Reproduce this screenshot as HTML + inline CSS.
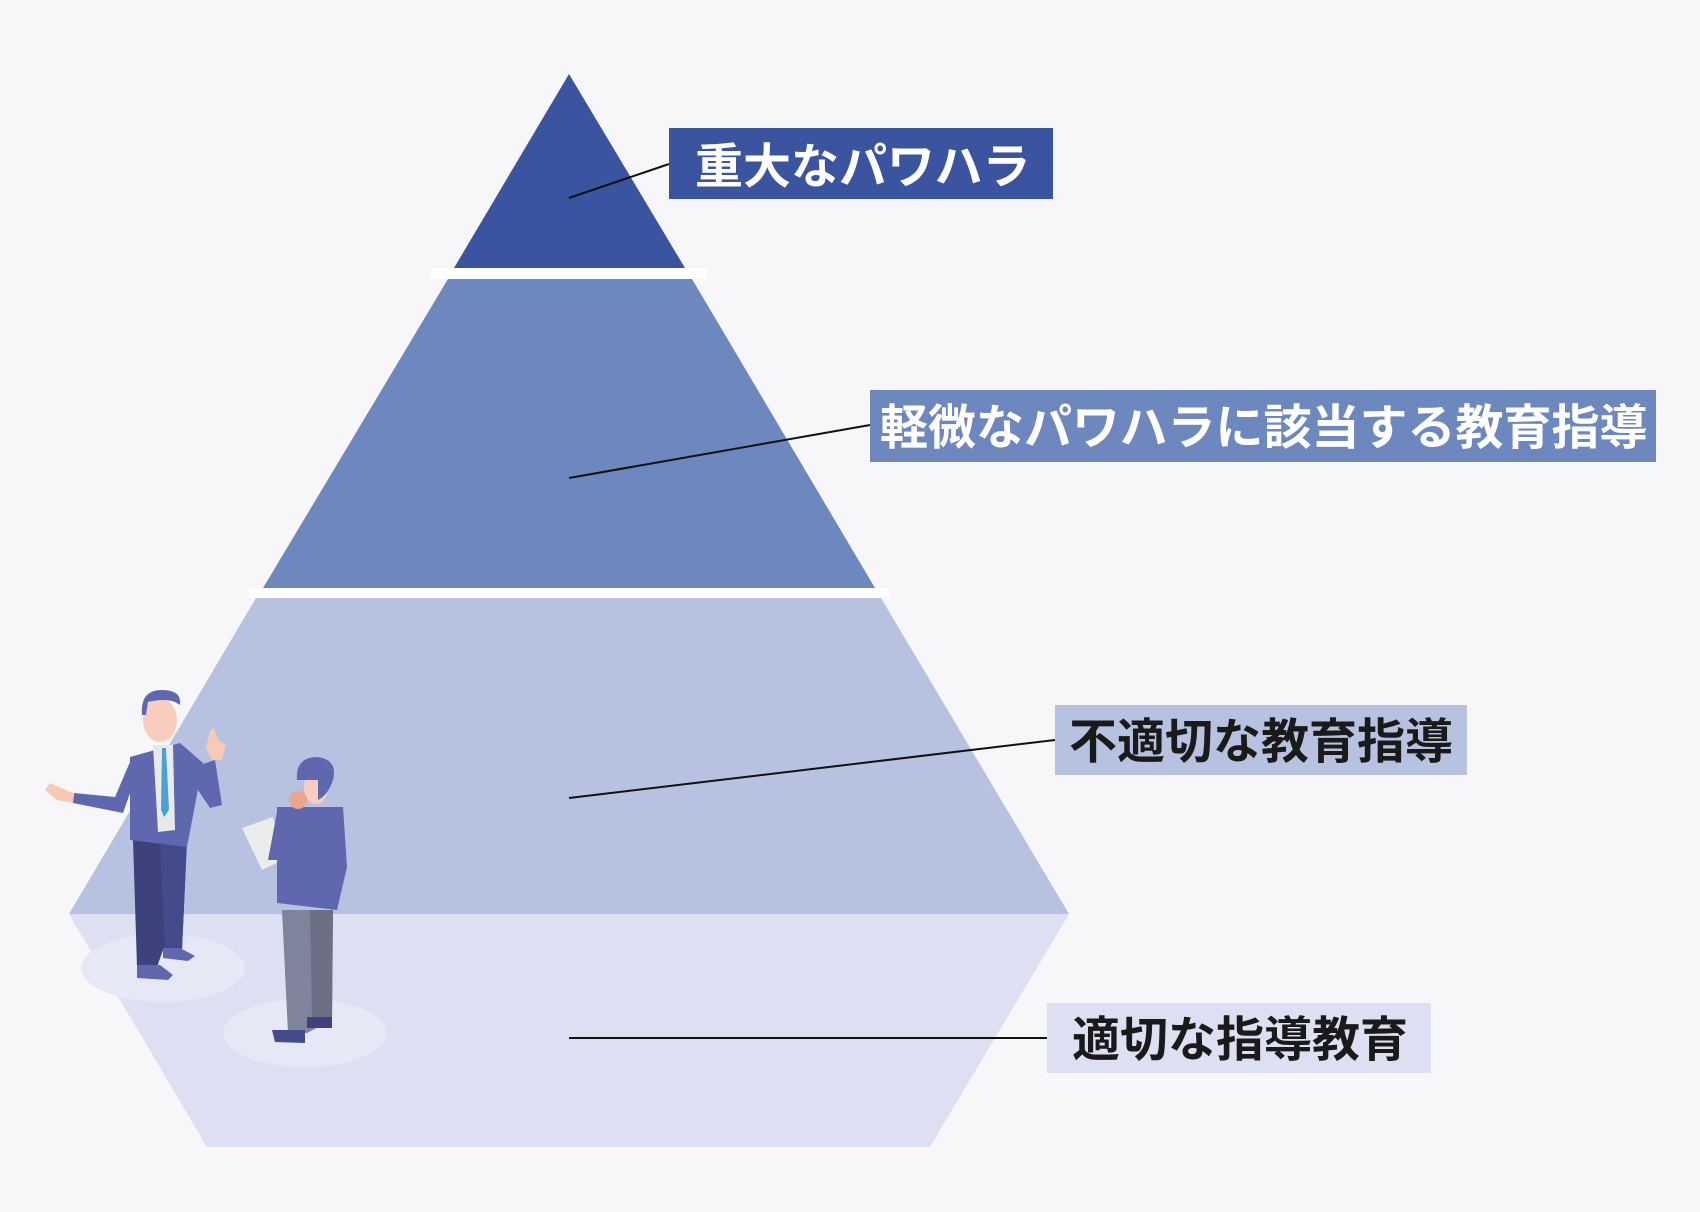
<!DOCTYPE html>
<html><head><meta charset="utf-8"><style>
html,body{margin:0;padding:0;background:#f7f7f9;}
svg{display:block;}
text{font-family:"Liberation Sans","Noto Sans CJK JP",sans-serif;font-weight:bold;font-size:48px;}
</style></head><body>
<svg width="1700" height="1212" viewBox="0 0 1700 1212" xmlns="http://www.w3.org/2000/svg">
<rect width="1700" height="1212" fill="#f7f7f9"/>
<polygon points="569,74 685,268 454,268" fill="#3a54a0"/>
<rect x="431" y="268" width="276" height="11" fill="#ffffff"/>
<polygon points="448,279 692,279 875,588 263,588" fill="#6d87bf"/>
<rect x="249" y="588" width="640" height="10" fill="#ffffff"/>
<polygon points="256,598 881,598 1069,914 69,914" fill="#b6c2e0"/>
<polygon points="69,914 1069,914 930,1147 207,1147" fill="#dde0f2"/>
<ellipse cx="163" cy="968" rx="82" ry="34" fill="#e6e8f5"/>
<ellipse cx="305" cy="1033" rx="82" ry="34" fill="#e6e8f5"/>
<polygon points="133,840 187,840 182,950 163,950 157,967 137,967" fill="#3d427c"/>
<polygon points="160,840 187,840 182,950 165,950" fill="#454b8a"/>
<polygon points="137,965 160,965 173,975 168,980 137,978" fill="#5f67ae"/>
<polygon points="163,948 180,948 195,956 188,961 163,958" fill="#5f67ae"/>
<polygon points="130,757 180,743 203,763 187,847 130,840" fill="#5f67ae"/>
<polygon points="153,745 173,745 175,830 158,832" fill="#e9eaea"/>
<polygon points="162,748 166,748 169,810 164,817 161,810" fill="#4aa0d8"/>
<polygon points="130,762 140,765 123,813 73,803 74,793 115,797" fill="#5f67ae"/>
<polygon points="50,783 73,793 73,803 57,800 45,790" fill="#f8c9b5"/>
<polygon points="200,765 215,760 222,805 210,808 198,790" fill="#5f67ae"/>
<polygon points="210,730 214,728 218,740 226,745 222,760 212,760 206,748" fill="#f8c9b5"/>
<ellipse cx="160" cy="720" rx="17" ry="22" fill="#f8cdbd"/>
<path d="M142,715 Q140,690 162,690 Q182,690 180,705 L175,702 Q165,698 148,702 L146,715 Z" fill="#5f67ae"/>
<polygon points="282,910 333,910 332,1020 307,1033 288,1033" fill="#7e849c"/>
<polygon points="310,910 333,910 332,1020 312,1020" fill="#6c7084"/>
<polygon points="272,1030 305,1030 305,1043 275,1042" fill="#454b8a"/>
<polygon points="307,1017 332,1017 332,1028 307,1028" fill="#3d427c"/>
<polygon points="242,828 273,817 283,860 262,870" fill="#ececec"/>
<polygon points="277,807 343,807 347,867 337,910 277,903" fill="#5f67ae"/>
<polygon points="277,812 288,812 285,860 268,860" fill="#5f67ae"/>
<ellipse cx="316" cy="787" rx="12" ry="17" fill="#f8cdbd"/>
<ellipse cx="298" cy="800" rx="9" ry="9" fill="#eaa58c"/>
<path d="M297,780 Q295,757 318,757 Q338,760 333,780 Q328,795 318,800 L318,780 Z" fill="#5f67ae"/>
<g stroke="#111" stroke-width="2">
<line x1="569" y1="198" x2="669" y2="164"/>
<line x1="569" y1="478" x2="870" y2="425"/>
<line x1="569" y1="798" x2="1055" y2="740"/>
<line x1="569" y1="1038" x2="1047" y2="1038"/>
</g>
<rect x="669" y="128" width="384" height="71" fill="#3a54a0"/>
<text x="695" y="183" fill="#ffffff">重大なパワハラ</text>
<rect x="870" y="390" width="786" height="72" fill="#6d87bf"/>
<text x="880" y="444" fill="#ffffff">軽微なパワハラに該当する教育指導</text>
<rect x="1055" y="705" width="412" height="70" fill="#b6c2e0"/>
<text x="1069" y="758" fill="#1a1a1a">不適切な教育指導</text>
<rect x="1047" y="1003" width="384" height="70" fill="#dde0f2"/>
<text x="1072" y="1056" fill="#1a1a1a">適切な指導教育</text>
</svg>
</body></html>
